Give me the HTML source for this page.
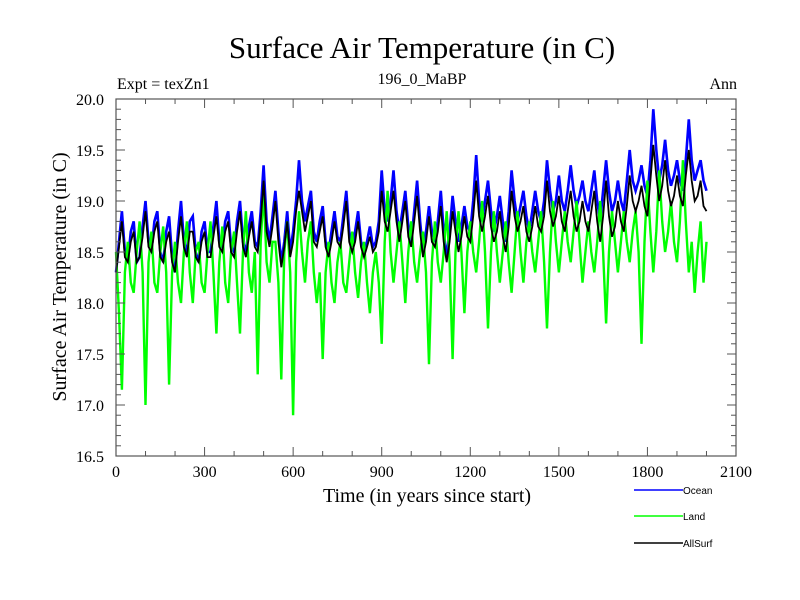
<!DOCTYPE html>
<html><head><meta charset="utf-8"><style>
body{margin:0;background:#fff}
svg{display:block}
text{font-family:"Liberation Serif",serif;fill:#000}
</style></head><body>
<svg id="c" width="800" height="600"></svg>
<script>
const ocean=[18.3,18.6,18.9,18.5,18.4,18.7,18.8,18.4,18.45,18.75,19.0,18.6,18.5,18.8,18.9,18.5,18.4,18.7,18.85,18.45,
18.3,18.7,19.0,18.6,18.5,18.8,18.85,18.5,18.4,18.7,18.8,18.5,18.5,18.75,19.0,18.6,18.55,18.8,18.9,18.55,
18.5,18.8,19.0,18.6,18.5,18.75,18.9,18.6,18.55,18.9,19.35,18.8,18.6,18.85,19.1,18.7,18.4,18.6,18.9,18.5,
18.7,19.0,19.4,19.0,18.8,18.95,19.1,18.7,18.6,18.8,18.95,18.6,18.5,18.7,18.9,18.65,18.6,18.85,19.1,18.7,
18.55,18.7,18.9,18.6,18.5,18.6,18.75,18.55,18.6,18.8,19.3,18.9,18.8,19.0,19.3,18.9,18.7,18.9,19.1,18.75,
18.6,18.9,19.2,18.8,18.5,18.7,18.95,18.7,18.6,18.8,19.1,18.7,18.45,18.7,19.05,18.8,18.6,18.75,18.95,18.75,
18.7,19.0,19.45,19.0,18.8,19.0,19.2,18.9,18.7,18.85,19.05,18.8,18.6,18.9,19.3,19.0,18.8,18.95,19.1,18.85,
18.7,18.9,19.1,18.9,18.8,19.0,19.4,19.1,18.9,19.0,19.25,19.0,18.9,19.1,19.35,19.1,18.95,19.05,19.2,19.0,
18.9,19.1,19.3,19.0,18.8,19.1,19.4,19.1,18.9,19.0,19.2,19.0,18.9,19.2,19.5,19.2,19.1,19.2,19.35,19.15,
19.05,19.4,19.9,19.5,19.2,19.35,19.6,19.3,19.15,19.25,19.4,19.2,19.1,19.4,19.8,19.4,19.2,19.3,19.4,19.2,
19.1];
const land=[18.5,17.9,17.15,18.3,18.6,18.2,18.1,18.5,18.8,18.3,17.0,18.4,18.7,18.2,18.1,18.5,18.75,18.3,17.2,18.3,
18.6,18.2,18.0,18.5,18.8,18.3,18.0,18.5,18.6,18.2,18.1,18.5,18.8,18.3,17.7,18.4,18.75,18.2,18.0,18.5,
18.7,18.2,17.7,18.5,18.9,18.3,18.1,18.5,17.3,18.6,19.1,18.4,18.2,18.6,18.6,18.2,17.25,18.5,18.8,18.3,
16.9,18.4,18.9,18.5,18.2,18.6,18.8,18.3,18.0,18.3,17.45,18.3,18.6,18.2,18.0,18.4,18.6,18.2,18.1,18.4,
18.7,18.3,18.05,18.4,18.6,18.2,17.9,18.3,18.5,18.2,17.6,18.6,19.1,18.5,18.2,18.5,18.8,18.4,18.0,18.5,
18.8,18.4,18.2,18.5,18.7,18.3,17.4,18.4,18.8,18.4,18.2,18.5,18.9,18.4,17.45,18.5,18.9,18.5,17.9,18.5,
18.8,18.5,18.3,18.6,19.0,18.5,17.75,18.5,18.9,18.5,18.2,18.5,18.8,18.4,18.1,18.5,18.9,18.5,18.2,18.6,
18.8,18.5,18.3,18.6,18.9,18.4,17.75,18.5,19.0,18.6,18.3,18.6,18.9,18.6,18.4,18.7,19.0,18.6,18.2,18.5,
18.8,18.5,18.3,18.6,19.0,18.5,17.8,18.5,18.9,18.6,18.3,18.6,18.9,18.6,18.4,18.7,18.9,18.5,17.6,18.6,
19.2,18.7,18.3,18.7,19.3,18.8,18.5,18.7,19.0,18.6,18.4,18.8,19.4,18.8,18.3,18.6,18.1,18.5,18.8,18.2,
18.6];
const allsurf=[18.3,18.55,18.8,18.45,18.4,18.6,18.7,18.4,18.45,18.65,18.9,18.55,18.5,18.7,18.8,18.45,18.4,18.6,18.7,18.4,
18.3,18.6,18.85,18.55,18.45,18.7,18.7,18.45,18.4,18.6,18.7,18.45,18.45,18.65,18.85,18.55,18.5,18.7,18.8,18.5,
18.45,18.7,18.9,18.55,18.45,18.65,18.8,18.55,18.5,18.8,19.2,18.7,18.55,18.75,19.0,18.6,18.35,18.55,18.8,18.45,
18.6,18.9,19.1,18.9,18.7,18.85,19.0,18.6,18.55,18.7,18.85,18.55,18.45,18.6,18.8,18.6,18.55,18.75,19.0,18.6,
18.5,18.6,18.8,18.55,18.45,18.55,18.65,18.5,18.55,18.7,19.1,18.8,18.7,18.9,19.1,18.8,18.6,18.8,19.0,18.65,
18.55,18.8,19.05,18.7,18.45,18.6,18.85,18.6,18.55,18.7,18.95,18.6,18.4,18.6,18.9,18.7,18.5,18.65,18.85,18.65,
18.6,18.85,19.2,18.85,18.7,18.85,19.05,18.75,18.6,18.7,18.9,18.65,18.5,18.75,19.1,18.85,18.7,18.8,18.95,18.7,
18.6,18.75,18.95,18.75,18.7,18.85,19.2,18.9,18.75,18.85,19.05,18.8,18.7,18.9,19.1,18.85,18.7,18.8,19.0,18.8,
18.7,18.9,19.1,18.8,18.6,18.85,19.2,18.85,18.65,18.75,19.0,18.8,18.7,18.95,19.25,19.0,18.9,19.0,19.15,18.95,
18.85,19.2,19.55,19.25,19.0,19.15,19.4,19.1,18.95,19.05,19.25,19.05,18.95,19.25,19.5,19.2,19.0,19.05,19.2,18.95,
18.9];
const yTicks=["16.5","17.0","17.5","18.0","18.5","19.0","19.5","20.0"];
const xTicks=["0","300","600","900","1200","1500","1800","2100"];
const yearStep=10;

const L=116,R=736,T=99,B=456;
const X=v=>L+(v/2100)*(R-L);
const Y=v=>B-(v-16.5)/3.5*(B-T);
const NS="http://www.w3.org/2000/svg";
const svg=document.getElementById('c');
function mk(tag,attrs,txt){const e=document.createElementNS(NS,tag);for(const k in attrs)e.setAttribute(k,attrs[k]);if(txt!==undefined)e.textContent=txt;svg.appendChild(e);return e;}

let t;
t=mk('text',{x:422,y:58,'text-anchor':'middle','font-size':31},'Surface Air Temperature (in C)');


t=mk('text',{x:117,y:89,'font-size':16},'Expt = texZn1');


t=mk('text',{x:422,y:84,'text-anchor':'middle','font-size':16},'196_0_MaBP');


t=mk('text',{x:737,y:89,'text-anchor':'end','font-size':16},'Ann');



function series(vals,color,name,w){
  const pts=vals.map((v,i)=>X(i*yearStep).toFixed(1)+','+Y(v).toFixed(1)).join(' ');
  const p=mk('polyline',{points:pts,fill:'none',stroke:color,'stroke-width':w,'stroke-linejoin':'miter'});
  
  
}
series(ocean,'#0000ff','ocean-line',2.6);
series(land,'#00ff00','land-line',2.4);
series(allsurf,'#000000','allsurf-line',1.8);

const f=mk('rect',{x:L,y:T,width:R-L,height:B-T,fill:'none',stroke:'#555','stroke-width':1.2});



for(let v=0;v<=2100;v+=100){
  const len=(v%300===0)?9:5;
  mk('line',{x1:X(v),x2:X(v),y1:B,y2:B-len,stroke:'#555'});
  mk('line',{x1:X(v),x2:X(v),y1:T,y2:T+len,stroke:'#555'});
}
for(let i=0;i<=35;i++){
  const v=16.5+i*0.1,len=(i%5===0)?9:5;
  mk('line',{x1:L,x2:L+len,y1:Y(v),y2:Y(v),stroke:'#555'});
  mk('line',{x1:R,x2:R-len,y1:Y(v),y2:Y(v),stroke:'#555'});
}
yTicks.forEach(s=>{
  const e=mk('text',{x:104,y:Y(parseFloat(s))+6,'text-anchor':'end','font-size':16},s);
  
  
});
xTicks.forEach(s=>{
  const e=mk('text',{x:X(parseFloat(s)),y:477,'text-anchor':'middle','font-size':16},s);
  
  
});
t=mk('text',{x:427,y:502,'text-anchor':'middle','font-size':20},'Time (in years since start)');


t=mk('text',{x:0,y:0,'text-anchor':'middle','font-size':20,transform:'translate(66,277) rotate(-90)'},'Surface Air Temperature (in C)');



[['Ocean','#0000ff',490],['Land','#00ff00',516],['AllSurf','#000000',543]].forEach(([n,c,y])=>{
  const g=mk('g',{});
  
  
  const l=document.createElementNS(NS,'line');
  l.setAttribute('x1',634);l.setAttribute('x2',683);l.setAttribute('y1',y);l.setAttribute('y2',y);
  l.setAttribute('stroke',c);l.setAttribute('stroke-width',1.5);
  g.appendChild(l);
  const tx=document.createElementNS(NS,'text');
  tx.setAttribute('x',683);tx.setAttribute('y',y+4);tx.setAttribute('font-size',10);
  tx.setAttribute('style','font-family:"Liberation Sans",sans-serif');
  tx.textContent=n;g.appendChild(tx);
});
</script>
</body></html>
